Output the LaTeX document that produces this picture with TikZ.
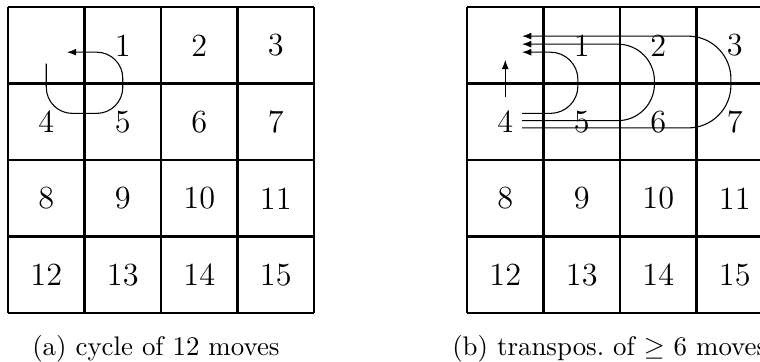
\documentclass[tikz,border=0pt]{standalone}
\usepackage{amsmath,amssymb}
\usetikzlibrary{arrows.meta}
\tikzset{
  >={Latex[length=1.2mm,width=0.9mm]},
  % brädet
  board/.style={line width=0.8pt},
  tile/.style={font=\large,inner sep=0pt},
  % drag
  mv/.style={->,line width=0.4pt},
  subcap/.style={anchor=base west,inner sep=0pt},
}
\begin{document}
\begin{tikzpicture}
\useasboundingbox (-0.105,0.092) rectangle (9.83,-4.64);
  \foreach \ox/\pn in {0/a,6/b}{
    \draw[board] (\ox,-4) grid (\ox+4,0);
    \foreach \r in {0,...,3}
      \foreach \c in {0,...,3}{
        \pgfmathtruncatemacro\n{4*\r+\c}
        \ifnum\n>0 \node[tile] (\pn\n) at (\ox+\c+0.5,-\r-0.5) {\n};\fi
      }
  }
  % cykel
  \draw[mv,rounded corners=0.34cm] (0.5,-0.74) -- (0.5,-1.39) -- (1.5,-1.39)
    -- (1.5,-0.59) -- (0.77,-0.59);
  % transpositioner
  \draw[mv] (6.5,-1.18) -- (6.5,-0.69);
  \foreach \k/\rad in {1/0.36,2/0.48,3/0.56}{
    \draw[mv,rounded corners=\rad cm] (6.72,{-1.39-0.095*(\k-1)})
      -- ({6.45+\k},{-1.39-0.095*(\k-1)}) -- ({6.45+\k},{-0.59+0.105*(\k-1)})
      -- (6.72,{-0.59+0.105*(\k-1)});
  }
  \node[subcap] (capa) at (0.31,-4.55) {(a) cycle of 12 moves};
  \node[subcap] (capb) at (5.8,-4.55) {(b) transpos.\ of $\geq$ 6 moves};
\end{tikzpicture}
\end{document}
